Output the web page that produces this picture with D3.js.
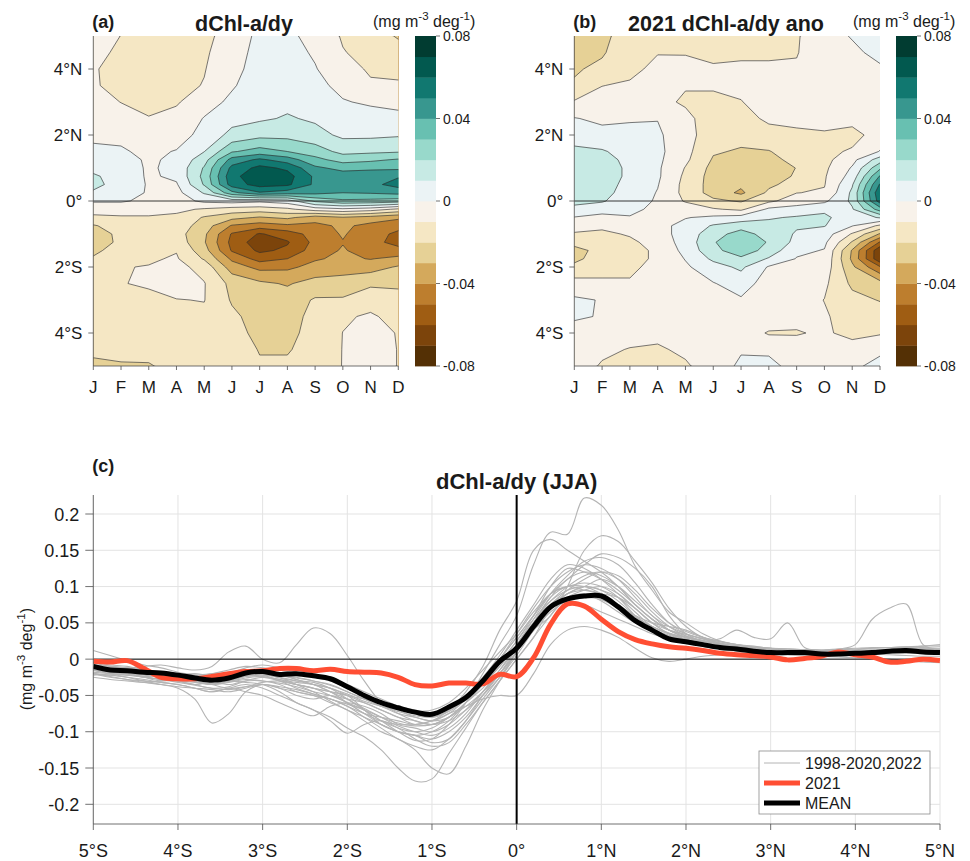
<!DOCTYPE html>
<html>
<head>
<meta charset="utf-8">
<script src="https://cdn.jsdelivr.net/npm/d3@7"></script>
<style>
  body { margin: 0; background: #fff; }
  svg { display: block; }
  text { font-family: "Liberation Sans", Arial, Helvetica, sans-serif; fill: #1a1a1a; }
</style>
</head>
<body>
<svg id="fig" width="970" height="861"></svg>
<script>
// ---------- Panels (a) and (b): month x latitude fields ----------
const monthLabels = ["J","F","M","A","M","J","J","A","S","O","N","D"];
// latitude of each grid row (north to south)
const gridLats = [5,4.5,4,3.5,3,2.5,2,1.5,1.25,1,0.75,0.5,0.25,0,-0.25,-0.5,-0.75,-1,-1.25,-1.5,-1.75,-2,-2.5,-3,-3.5,-4,-4.5,-5];
const latTicks = [4, 2, 0, -2, -4];
const colorTicks = [0.08, 0.04, 0, -0.04, -0.08];
const bandColors = ["#543005","#7c440b","#9f5d13","#bd7e2e","#d4a95c","#e6d196","#f5e7c4","#f8f2ea",
                    "#ebf3f5","#c7eae4","#98d9cb","#68c0b1","#38978f","#117870","#02594f","#013c31"];

// climatological dChl-a/dy, rows = gridLats, columns = Jan..Dec
const climGradient = [
  [-0.004,-0.0102,-0.013,-0.014,-0.013,-0.005,0.002,0.002,-0.003,-0.011,-0.015,-0.021],
  [-0.007,-0.012,-0.015,-0.016,-0.0115,-0.004,0.003,0.003,-0.001,-0.0095,-0.013,-0.016],
  [-0.009,-0.014,-0.016,-0.015,-0.0105,-0.003,0.004,0.004,0.0005,-0.0055,-0.0115,-0.012],
  [-0.009,-0.013,-0.016,-0.013,-0.0095,-0.001,0.005,0.005,0.002,-0.002,-0.0085,-0.009],
  [-0.006,-0.0102,-0.013,-0.011,-0.004,0.002,0.006,0.0075,0.0045,0.0005,-0.001,-0.002],
  [-0.003,-0.006,-0.0095,-0.007,0.0005,0.0065,0.0085,0.011,0.0085,0.004,0.003,0.002],
  [-0.001,-0.002,-0.005,-0.004,0.003,0.013,0.017,0.017,0.0135,0.008,0.008,0.009],
  [0.001,0.001,-0.002,0.0005,0.0098,0.029,0.034,0.03,0.025,0.017,0.018,0.019],
  [0.005,0.004,-0.0015,0.002,0.016,0.044,0.052,0.045,0.033,0.026,0.028,0.031],
  [0.008,0.006,-0.0015,0.003,0.021,0.053,0.063,0.058,0.042,0.037,0.038,0.038],
  [0.011,0.007,-0.0015,0.002,0.023,0.057,0.067,0.064,0.048,0.045,0.046,0.049],
  [0.012,0.007,-0.001,-0.001,0.021,0.055,0.064,0.062,0.048,0.047,0.047,0.054],
  [0.009,0.005,-0.001,-0.003,0.011,0.037,0.049,0.045,0.043,0.04,0.041,0.043],
  [0.001,0.001,-0.002,-0.004,0.002,0.004,0.002,0.005,0.022,0.028,0.027,0.025],
  [-0.006,-0.006,-0.006,-0.008,-0.011,-0.014,-0.015,-0.012,-0.005,-0.002,-0.005,-0.012],
  [-0.012,-0.011,-0.011,-0.012,-0.021,-0.027,-0.031,-0.028,-0.035,-0.031,-0.034,-0.038],
  [-0.021,-0.015,-0.013,-0.014,-0.025,-0.041,-0.045,-0.042,-0.043,-0.038,-0.043,-0.047],
  [-0.024,-0.018,-0.014,-0.016,-0.028,-0.051,-0.061,-0.055,-0.046,-0.039,-0.046,-0.052],
  [-0.025,-0.018,-0.014,-0.014,-0.029,-0.053,-0.066,-0.061,-0.047,-0.0405,-0.047,-0.053],
  [-0.022,-0.016,-0.013,-0.0105,-0.026,-0.051,-0.062,-0.058,-0.045,-0.039,-0.045,-0.047],
  [-0.019,-0.013,-0.0112,-0.009,-0.021,-0.042,-0.054,-0.05,-0.041,-0.038,-0.0405,-0.037],
  [-0.016,-0.0104,-0.0096,-0.007,-0.0135,-0.035,-0.043,-0.042,-0.037,-0.035,-0.034,-0.029],
  [-0.013,-0.0102,-0.0094,-0.006,-0.0095,-0.023,-0.028,-0.031,-0.026,-0.025,-0.022,-0.022],
  [-0.012,-0.012,-0.0112,-0.0103,-0.0097,-0.021,-0.025,-0.025,-0.019,-0.019,-0.013,-0.016],
  [-0.012,-0.013,-0.013,-0.012,-0.012,-0.018,-0.024,-0.024,-0.017,-0.011,-0.009,-0.0125],
  [-0.013,-0.014,-0.014,-0.013,-0.013,-0.016,-0.023,-0.023,-0.016,-0.0099,-0.008,-0.0103],
  [-0.018,-0.017,-0.016,-0.014,-0.014,-0.015,-0.0205,-0.021,-0.015,-0.0098,-0.007,-0.0102],
  [-0.022,-0.021,-0.021,-0.016,-0.013,-0.014,-0.019,-0.018,-0.014,-0.0098,-0.007,-0.0102]
];

// 2021 anomaly of dChl-a/dy, rows = gridLats, columns = Jan..Dec
const anomaly2021 = [
  [-0.024,-0.022,-0.016,-0.014,-0.014,-0.014,-0.013,-0.012,-0.011,-0.003,0.0005,0.003],
  [-0.022,-0.021,-0.014,-0.0105,-0.0104,-0.012,-0.011,-0.011,-0.0105,-0.004,-0.0015,0.002],
  [-0.021,-0.018,-0.013,-0.007,-0.008,-0.009,-0.009,-0.009,-0.009,-0.005,-0.003,-0.001],
  [-0.019,-0.0102,-0.0085,-0.004,-0.0095,-0.009,-0.007,-0.006,-0.006,-0.005,-0.004,-0.002],
  [-0.009,-0.006,-0.006,-0.008,-0.011,-0.012,-0.0105,-0.004,-0.006,-0.006,-0.005,-0.003],
  [0.0005,-0.002,-0.001,-0.0003,-0.008,-0.014,-0.013,-0.0085,-0.008,-0.007,-0.007,-0.004],
  [0.006,0.003,0.003,0.0015,-0.006,-0.016,-0.017,-0.013,-0.0115,-0.011,-0.013,-0.006],
  [0.012,0.011,0.006,0.0025,-0.007,-0.019,-0.021,-0.0205,-0.015,-0.012,-0.009,0.0005],
  [0.014,0.014,0.007,0.002,-0.008,-0.021,-0.024,-0.022,-0.018,-0.013,-0.003,0.015],
  [0.015,0.015,0.008,0.0015,-0.0105,-0.023,-0.026,-0.024,-0.0198,-0.012,0.001,0.028],
  [0.016,0.015,0.008,0.0015,-0.012,-0.024,-0.027,-0.024,-0.019,-0.011,0.004,0.041],
  [0.017,0.014,0.007,0.0005,-0.013,-0.024,-0.028,-0.022,-0.016,-0.0105,0.009,0.051],
  [0.019,0.013,0.006,-0.0005,-0.013,-0.024,-0.032,-0.018,-0.0102,-0.009,0.012,0.058],
  [0.012,0.011,0.004,-0.001,-0.011,-0.018,-0.021,-0.012,-0.005,-0.002,0.012,0.055],
  [0.008,0.004,0.002,-0.002,-0.004,-0.009,-0.012,0.002,0.004,0.008,0.009,0.035],
  [-0.0005,-0.003,-0.0005,-0.003,-0.0005,0.002,0.004,0.009,0.011,0.012,0.004,0.011],
  [-0.006,-0.008,-0.005,-0.003,0.003,0.011,0.016,0.013,0.011,0.0105,0.0005,-0.012],
  [-0.011,-0.012,-0.009,-0.004,0.004,0.016,0.024,0.016,0.009,0.005,-0.011,-0.031],
  [-0.017,-0.015,-0.012,-0.006,0.004,0.019,0.029,0.019,0.007,0.002,-0.021,-0.051],
  [-0.023,-0.017,-0.013,-0.0085,0.003,0.017,0.026,0.016,0.002,-0.0005,-0.031,-0.068],
  [-0.022,-0.016,-0.013,-0.0085,0.0005,0.012,0.018,0.009,-0.0005,-0.002,-0.032,-0.068],
  [-0.018,-0.014,-0.012,-0.007,-0.0015,0.006,0.012,-0.001,-0.002,-0.004,-0.028,-0.049],
  [-0.006,-0.008,-0.009,-0.005,-0.004,-0.0005,0.004,-0.004,-0.004,-0.008,-0.022,-0.026],
  [0.0015,-0.0005,-0.005,-0.004,-0.005,-0.004,-0.001,-0.002,-0.006,-0.0102,-0.017,-0.0205],
  [0.001,-0.0005,-0.004,-0.005,-0.006,-0.006,-0.003,-0.003,-0.008,-0.009,-0.014,-0.015],
  [-0.003,-0.005,-0.006,-0.008,-0.008,-0.008,-0.004,-0.011,-0.0105,-0.009,-0.012,-0.011],
  [-0.004,-0.008,-0.0105,-0.011,-0.0085,-0.008,-0.001,-0.002,-0.007,-0.006,-0.007,-0.002],
  [-0.005,-0.011,-0.013,-0.014,-0.011,-0.006,0.002,0.003,-0.004,-0.004,-0.002,0.003]
];

// ---------- Panel (c): JJA meridional profiles ----------
const profileLats = [-5,-4.8,-4.6,-4.4,-4.2,-4,-3.8,-3.6,-3.4,-3.2,
  -3,-2.8,-2.6,-2.4,-2.2,-2,-1.8,-1.6,-1.4,-1.2,
  -1,-0.8,-0.6,-0.4,-0.2,0,0.2,0.4,0.6,0.8,
  1,1.2,1.4,1.6,1.8,2,2.2,2.4,2.6,2.8,
  3,3.2,3.4,3.6,3.8,4,4.2,4.4,4.6,4.8,5];
const profileYTicks = [0.2,0.15,0.1,0.05,0,-0.05,-0.1,-0.15,-0.2];
const profileXTicks = [-5,-4,-3,-2,-1,0,1,2,3,4,5];

const profile2021 = [-0.003,-0.004,-0.002,-0.013,-0.025,-0.027,-0.027,-0.024,-0.02,-0.017,
  -0.016,-0.013,-0.013,-0.016,-0.014,-0.017,-0.018,-0.019,-0.025,-0.035,
  -0.037,-0.033,-0.033,-0.034,-0.021,-0.024,0.002,0.048,0.076,0.073,
  0.055,0.038,0.027,0.021,0.017,0.015,0.012,0.008,0.006,0.005,
  0.003,-0.001,0.001,0.004,0.01,0.006,0.003,-0.004,-0.003,0,-0.002];

const profileMean = [-0.01,-0.015,-0.016,-0.018,-0.019,-0.022,-0.026,-0.029,-0.026,-0.019,
  -0.017,-0.021,-0.02,-0.023,-0.027,-0.038,-0.05,-0.06,-0.067,-0.073,
  -0.076,-0.066,-0.053,-0.03,-0.003,0.015,0.045,0.072,0.083,0.087,
  0.087,0.072,0.053,0.04,0.028,0.024,0.02,0.016,0.014,0.011,
  0.009,0.009,0.009,0.007,0.007,0.008,0.009,0.011,0.012,0.01,0.009];

// individual years 1998-2020 and 2022
const profileYears = [
  [-0.012,-0.016,-0.02,-0.024,-0.022,-0.025,-0.03,-0.034,-0.03,-0.022,
   -0.02,-0.026,-0.03,-0.032,-0.04,-0.055,-0.07,-0.085,-0.1,-0.112,
   -0.11,-0.09,-0.06,-0.02,0.02,0.06,0.13,0.175,0.172,0.222,
   0.212,0.178,0.128,0.095,0.065,0.05,0.035,0.025,0.02,0.018,
   0.015,0.014,0.013,0.012,0.013,0.014,0.015,0.016,0.017,0.016,0.015],
  [-0.008,-0.01,-0.014,-0.018,-0.02,-0.022,-0.02,-0.024,-0.03,-0.026,
   -0.024,-0.028,-0.035,-0.04,-0.045,-0.05,-0.07,-0.09,-0.1,-0.105,
   -0.115,-0.11,-0.085,-0.05,-0.02,0.01,0.04,0.06,0.1,0.15,
   0.17,0.162,0.135,0.105,0.07,0.045,0.03,0.025,0.02,0.016,
   0.015,0.012,0.012,0.011,0.01,0.01,0.011,0.012,0.012,0.012,0.011],
  [-0.015,-0.02,-0.022,-0.02,-0.025,-0.03,-0.035,-0.03,-0.025,-0.02,
   -0.022,-0.03,-0.035,-0.04,-0.05,-0.06,-0.075,-0.08,-0.085,-0.09,
   -0.085,-0.07,-0.045,-0.01,0.04,0.08,0.15,0.165,0.15,0.135,
   0.12,0.1,0.075,0.055,0.04,0.03,0.025,0.022,0.018,0.015,
   0.012,0.01,0.01,0.012,0.013,0.012,0.01,0.01,0.012,0.014,0.013],
  [-0.02,-0.025,-0.028,-0.03,-0.032,-0.035,-0.04,-0.045,-0.04,-0.035,
   -0.04,-0.05,-0.06,-0.07,-0.08,-0.095,-0.107,-0.125,-0.15,-0.168,
   -0.165,-0.13,-0.095,-0.06,-0.03,0,0.03,0.07,0.09,0.1,
   0.095,0.085,0.065,0.045,0.035,0.03,0.025,0.02,0.018,0.016,
   0.014,0.012,0.01,0.008,0.008,0.01,0.012,0.012,0.01,0.008,0.007],
  [-0.012,-0.015,-0.02,-0.025,-0.03,-0.028,-0.026,-0.03,-0.035,-0.03,
   -0.03,-0.035,-0.045,-0.05,-0.06,-0.07,-0.085,-0.1,-0.11,-0.125,
   -0.15,-0.158,-0.12,-0.07,-0.03,0.01,0.04,0.07,0.09,0.1,
   0.11,0.1,0.08,0.06,0.04,0.03,0.025,0.02,0.015,0.012,
   0.01,0.01,0.009,0.008,0.006,0.005,0.008,0.01,0.012,0.012,0.01],
  [-0.005,-0.01,-0.012,-0.01,-0.008,-0.012,-0.015,-0.01,0.01,0.018,
   0,-0.005,0.02,0.043,0.035,0.005,-0.03,-0.06,-0.075,-0.085,
   -0.09,-0.08,-0.06,-0.03,0,0.03,0.06,0.09,0.1,0.105,
   0.1,0.085,0.06,0.04,0.03,0.025,0.02,0.02,0.018,0.015,
   0.012,0.01,0.012,0.012,0.01,0.008,0.01,0.012,0.015,0.014,0.012],
  [-0.015,-0.02,-0.025,-0.03,-0.035,-0.04,-0.055,-0.088,-0.075,-0.045,
   -0.035,-0.04,-0.05,-0.055,-0.05,-0.06,-0.07,-0.085,-0.095,-0.1,
   -0.095,-0.08,-0.06,-0.04,-0.015,0.015,0.05,0.085,0.11,0.12,
   0.115,0.1,0.075,0.055,0.04,0.032,0.026,0.022,0.018,0.015,
   0.012,0.01,0.008,0.007,0.008,0.01,0.012,0.013,0.012,0.011,0.01],
  [-0.02,-0.022,-0.025,-0.028,-0.032,-0.035,-0.04,-0.045,-0.04,-0.045,
   -0.05,-0.06,-0.07,-0.078,-0.065,-0.06,-0.065,-0.075,-0.09,-0.095,
   -0.1,-0.09,-0.07,-0.045,-0.02,0.01,0.05,0.08,0.1,0.115,
   0.12,0.11,0.09,0.065,0.045,0.032,0.025,0.02,0.016,0.014,
   0.012,0.011,0.01,0.009,0.009,0.01,0.01,0.011,0.012,0.012,0.013],
  [-0.01,-0.012,-0.015,-0.018,-0.02,-0.022,-0.025,-0.028,-0.03,-0.032,
   -0.035,-0.045,-0.06,-0.07,-0.085,-0.102,-0.09,-0.085,-0.095,-0.11,
   -0.12,-0.115,-0.09,-0.06,-0.03,0,0.03,0.06,0.085,0.095,
   0.1,0.09,0.07,0.05,0.035,0.028,0.022,0.018,0.015,0.013,
   0.011,0.01,0.009,0.008,0.008,0.009,0.01,0.011,0.012,0.012,0.011],
  [-0.005,-0.008,-0.01,-0.015,-0.018,-0.02,-0.022,-0.02,-0.018,-0.015,
   -0.018,-0.022,-0.025,-0.03,-0.035,-0.045,-0.055,-0.065,-0.075,-0.08,
   -0.085,-0.075,-0.055,-0.03,0,0.03,0.06,0.09,0.11,0.13,
   0.145,0.14,0.125,0.1,0.06,0.035,0.025,0.028,0.04,0.03,
   0.028,0.05,0.016,0.012,0.01,0.009,0.01,0.011,0.012,0.012,0.012],
  [-0.012,-0.015,-0.018,-0.02,-0.022,-0.025,-0.028,-0.03,-0.028,-0.024,
   -0.022,-0.025,-0.03,-0.035,-0.04,-0.05,-0.06,-0.07,-0.08,-0.09,
   -0.09,-0.08,-0.06,-0.035,-0.005,0.025,0.055,0.08,0.095,0.1,
   0.095,0.08,0.06,0.045,0.035,0.03,0.025,0.02,0.018,0.015,
   0.013,0.012,0.012,0.012,0.014,0.02,0.055,0.07,0.076,0.02,0.013],
  [-0.025,-0.028,-0.03,-0.032,-0.03,-0.028,-0.03,-0.035,-0.04,-0.038,
   -0.035,-0.04,-0.045,-0.05,-0.055,-0.065,-0.075,-0.085,-0.09,-0.09,
   -0.085,-0.075,-0.065,-0.055,-0.05,-0.05,-0.02,0.02,0.04,0.045,
   0.04,0.03,0.015,0.002,-0.003,0,0.004,0.006,0.008,0.008,
   0.007,0.006,0.005,0.004,0.003,0.002,0.001,0,-0.002,-0.004,-0.005],
  [-0.01,-0.012,-0.015,-0.02,-0.025,-0.03,-0.035,-0.04,-0.038,-0.03,
   -0.025,-0.028,-0.032,-0.035,-0.04,-0.048,-0.058,-0.065,-0.07,-0.072,
   -0.07,-0.06,-0.04,-0.015,0.01,0.035,0.065,0.09,0.1,0.095,
   0.09,0.085,0.07,0.05,0.035,0.027,0.022,0.018,0.015,0.012,
   0.01,0.008,0.009,0.01,0.012,0.011,0.01,0.009,0.008,0.009,0.01],
  [-0.018,-0.02,-0.022,-0.025,-0.028,-0.03,-0.032,-0.035,-0.032,-0.028,
   -0.03,-0.033,-0.038,-0.045,-0.05,-0.055,-0.06,-0.07,-0.08,-0.085,
   -0.09,-0.085,-0.07,-0.05,-0.025,0.005,0.04,0.07,0.085,0.09,
   0.08,0.065,0.05,0.04,0.032,0.026,0.021,0.018,0.015,0.013,
   0.011,0.01,0.01,0.011,0.012,0.012,0.011,0.01,0.01,0.011,0.012],
  [0.012,0.005,-0.002,-0.008,-0.012,-0.018,-0.022,-0.025,-0.02,-0.012,
   -0.008,-0.012,-0.018,-0.022,-0.028,-0.035,-0.045,-0.055,-0.065,-0.075,
   -0.08,-0.07,-0.05,-0.025,0.005,0.04,0.075,0.11,0.13,0.125,
   0.11,0.09,0.07,0.05,0.04,0.034,0.028,0.024,0.02,0.017,
   0.015,0.014,0.013,0.013,0.014,0.015,0.016,0.016,0.017,0.018,0.018],
  [-0.008,-0.01,-0.012,-0.015,-0.02,-0.024,-0.03,-0.034,-0.03,-0.024,
   -0.02,-0.022,-0.028,-0.035,-0.045,-0.06,-0.075,-0.09,-0.1,-0.105,
   -0.1,-0.085,-0.06,-0.03,0,0.035,0.07,0.1,0.12,0.13,
   0.125,0.11,0.085,0.06,0.045,0.035,0.028,0.022,0.018,0.016,
   0.014,0.012,0.011,0.01,0.009,0.01,0.011,0.012,0.013,0.013,0.012],
  [-0.02,-0.022,-0.018,-0.015,-0.018,-0.022,-0.025,-0.02,-0.015,-0.01,
   -0.012,-0.015,-0.02,-0.025,-0.03,-0.04,-0.05,-0.06,-0.07,-0.08,
   -0.085,-0.08,-0.06,-0.035,-0.01,0.02,0.05,0.075,0.09,0.095,
   0.09,0.075,0.058,0.045,0.036,0.03,0.025,0.02,0.016,0.013,
   0.01,0.008,0.006,0.005,0.006,0.008,0.01,0.01,0.009,0.008,0.008],
  [-0.015,-0.018,-0.02,-0.022,-0.025,-0.028,-0.03,-0.028,-0.025,-0.022,
   -0.025,-0.03,-0.04,-0.048,-0.055,-0.065,-0.08,-0.095,-0.11,-0.12,
   -0.125,-0.11,-0.085,-0.055,-0.025,0.01,0.045,0.075,0.095,0.11,
   0.12,0.115,0.095,0.07,0.05,0.038,0.03,0.024,0.02,0.016,
   0.013,0.011,0.01,0.009,0.009,0.009,0.01,0.01,0.011,0.011,0.011],
  [-0.02,-0.024,-0.028,-0.032,-0.035,-0.038,-0.04,-0.042,-0.045,-0.04,
   -0.035,-0.038,-0.042,-0.048,-0.055,-0.062,-0.07,-0.08,-0.088,-0.092,
   -0.09,-0.08,-0.065,-0.045,-0.02,0.01,0.04,0.065,0.08,0.085,
   0.082,0.07,0.055,0.042,0.033,0.027,0.022,0.018,0.015,0.012,
   0.01,0.008,0.007,0.006,0.006,0.007,0.008,0.009,0.009,0.008,0.007],
  [-0.01,-0.015,-0.02,-0.025,-0.028,-0.03,-0.028,-0.025,-0.02,-0.015,
   -0.018,-0.025,-0.035,-0.045,-0.058,-0.07,-0.08,-0.09,-0.1,-0.105,
   -0.11,-0.1,-0.08,-0.05,-0.02,0.015,0.05,0.085,0.1,0.1,
   0.09,0.075,0.06,0.05,0.045,0.04,0.03,0.022,0.016,0.012,
   0.01,0.009,0.009,0.01,0.011,0.012,0.013,0.014,0.016,0.018,0.02],
  [-0.015,-0.018,-0.02,-0.024,-0.028,-0.032,-0.036,-0.04,-0.042,-0.038,
   -0.032,-0.03,-0.035,-0.04,-0.045,-0.05,-0.055,-0.06,-0.065,-0.07,
   -0.075,-0.07,-0.055,-0.035,-0.01,0.02,0.05,0.07,0.08,0.075,
   0.065,0.055,0.045,0.035,0.028,0.022,0.018,0.014,0.011,0.009,
   0.007,0.006,0.005,0.005,0.006,0.007,0.007,0.006,0.005,0.004,0.004],
  [-0.022,-0.02,-0.018,-0.02,-0.024,-0.026,-0.03,-0.035,-0.03,-0.02,
   -0.015,-0.02,-0.028,-0.035,-0.045,-0.055,-0.068,-0.08,-0.092,-0.1,
   -0.105,-0.095,-0.075,-0.045,-0.015,0.02,0.055,0.09,0.115,0.135,
   0.14,0.13,0.105,0.075,0.05,0.035,0.028,0.022,0.018,0.016,
   0.015,0.014,0.013,0.012,0.012,0.013,0.015,0.016,0.016,0.015,0.014],
  [-0.018,-0.016,-0.014,-0.016,-0.02,-0.023,-0.026,-0.028,-0.025,-0.02,
   -0.018,-0.022,-0.026,-0.03,-0.036,-0.045,-0.055,-0.065,-0.072,-0.078,
   -0.08,-0.072,-0.055,-0.03,-0.005,0.025,0.06,0.1,0.125,0.12,
   0.11,0.095,0.075,0.055,0.04,0.03,0.024,0.02,0.016,0.013,
   0.011,0.01,0.009,0.009,0.01,0.011,0.012,0.012,0.011,0.01,0.009]
];

const legendLabels = ["1998-2020,2022", "2021", "MEAN"];

// ---------- drawing ----------
const svg = d3.select("#fig");
const axisColor = "#4d4d4d";

function addUnits(t, sup) {
  t.append("tspan").text("(mg m");
  t.append("tspan").attr("dy", -sup).attr("font-size", "0.72em").text("-3");
  t.append("tspan").attr("dy", sup).text(" deg");
  t.append("tspan").attr("dy", -sup).attr("font-size", "0.72em").text("-1");
  t.append("tspan").attr("dy", sup).text(")");
}

const bandLevels = d3.range(16).map(i => +(-0.08 + i * 0.01).toFixed(2));
const lineLevels = d3.range(17).map(i => +(-0.08 + i * 0.01).toFixed(2));

function drawField(opts) {
  const { values, x0, x1, y0, y1, cbx, tag, title, titleX, unitsX, id } = opts;
  const g = svg.append("g");
  const nx = monthLabels.length, ny = gridLats.length;
  const flat = values.flat();
  const xMonth = d3.scaleLinear().domain([0, nx - 1]).range([x0, x1]);
  const yLat = d3.scaleLinear().domain([5, -5]).range([y0, y1]);
  const rowToLat = d3.scaleLinear().domain(d3.range(ny)).range(gridLats);
  const px = gx => xMonth(gx - 0.5);
  const py = gy => yLat(rowToLat(gy - 0.5));
  const ringPath = ring => "M" + ring.map(p => px(p[0]).toFixed(2) + "," + py(p[1]).toFixed(2)).join("L") + "Z";
  const geomPath = c => c.coordinates.map(poly => poly.map(ringPath).join("")).join("");

  g.append("clipPath").attr("id", id).append("rect")
    .attr("x", x0).attr("y", y0).attr("width", x1 - x0).attr("height", y1 - y0);
  const plot = g.append("g").attr("clip-path", `url(#${id})`);

  const fills = d3.contours().size([nx, ny]).thresholds(bandLevels)(flat);
  plot.selectAll("path.band").data(fills).join("path")
    .attr("class", "band")
    .attr("d", geomPath)
    .attr("fill", (d, i) => bandColors[i])
    .attr("fill-rule", "evenodd")
    .attr("stroke", (d, i) => bandColors[i])
    .attr("stroke-width", 0.3);

  const lines = d3.contours().size([nx, ny]).thresholds(lineLevels)(flat);
  plot.selectAll("path.iso").data(lines).join("path")
    .attr("class", "iso")
    .attr("d", geomPath)
    .attr("fill", "none")
    .attr("stroke", "#2b2b2b")
    .attr("stroke-width", 0.7)
    .attr("stroke-opacity", 0.9);

  // equator
  g.append("line").attr("x1", x0).attr("x2", x1).attr("y1", yLat(0)).attr("y2", yLat(0))
    .attr("stroke", "#222").attr("stroke-width", 0.9);

  // axes
  g.append("line").attr("x1", x0).attr("x2", x0).attr("y1", y0).attr("y2", y1)
    .attr("stroke", axisColor).attr("stroke-width", 0.8);
  g.append("line").attr("x1", x0).attr("x2", x1).attr("y1", y1).attr("y2", y1)
    .attr("stroke", axisColor).attr("stroke-width", 0.8);
  monthLabels.forEach((m, i) => {
    const x = xMonth(i);
    g.append("line").attr("x1", x).attr("x2", x).attr("y1", y1).attr("y2", y1 + 4)
      .attr("stroke", axisColor).attr("stroke-width", 0.8);
    g.append("text").attr("x", x).attr("y", y1 + 27).attr("text-anchor", "middle")
      .attr("font-size", 17).text(m);
  });
  latTicks.forEach(l => {
    const y = yLat(l);
    g.append("line").attr("x1", x0 - 5).attr("x2", x0).attr("y1", y).attr("y2", y)
      .attr("stroke", axisColor).attr("stroke-width", 0.8);
    const lab = l === 0 ? "0°" : Math.abs(l) + "°" + (l > 0 ? "N" : "S");
    g.append("text").attr("x", x0 - 11).attr("y", y + 6).attr("text-anchor", "end")
      .attr("font-size", 17).text(lab);
  });

  // colorbar
  const yCb = d3.scaleLinear().domain([-0.08, 0.08]).range([y1, y0]);
  bandLevels.forEach((lv, i) => {
    g.append("rect").attr("x", cbx).attr("width", 21)
      .attr("y", yCb(lv + 0.01)).attr("height", yCb(lv) - yCb(lv + 0.01) + 0.4)
      .attr("fill", bandColors[i]);
  });
  colorTicks.forEach(v => {
    g.append("line").attr("x1", cbx + 21).attr("x2", cbx + 25).attr("y1", yCb(v)).attr("y2", yCb(v))
      .attr("stroke", axisColor).attr("stroke-width", 0.8);
    g.append("text").attr("x", cbx + 28).attr("y", yCb(v) + 5).attr("font-size", 14)
      .text(v === 0 ? "0" : v.toFixed(2));
  });

  // titles
  g.append("text").attr("x", x0 - 1).attr("y", 28).attr("font-size", 18).attr("font-weight", "bold").text(tag);
  g.append("text").attr("x", titleX).attr("y", 31).attr("text-anchor", "middle")
    .attr("font-size", 21.5).attr("font-weight", "bold").text(title);
  const u = g.append("text").attr("x", unitsX).attr("y", 27).attr("font-size", 16);
  addUnits(u, 7);
}

drawField({ values: climGradient, x0: 93.3, x1: 398.3, y0: 36, y1: 366, cbx: 415,
  tag: "(a)", title: "dChl-a/dy", titleX: 244, unitsX: 373, id: "clipA" });
drawField({ values: anomaly2021, x0: 574.3, x1: 880, y0: 36, y1: 366, cbx: 896,
  tag: "(b)", title: "2021 dChl-a/dy ano", titleX: 726, unitsX: 853, id: "clipB" });

// ---------- panel (c) ----------
(function () {
  const left = 93.3, right = 940, top = 495, bottom = 824;
  const x = d3.scaleLinear().domain([-5, 5]).range([left, right]);
  const y = d3.scaleLinear().domain([-0.2, 0.2]).range([804.3, 514]);
  const g = svg.append("g");

  // grid
  profileXTicks.forEach(t => {
    g.append("line").attr("x1", x(t)).attr("x2", x(t)).attr("y1", top).attr("y2", bottom)
      .attr("stroke", "#e3e3e3").attr("stroke-width", 1);
  });
  profileYTicks.forEach(t => {
    g.append("line").attr("x1", left).attr("x2", right).attr("y1", y(t)).attr("y2", y(t))
      .attr("stroke", "#e3e3e3").attr("stroke-width", 1);
  });

  const line = d3.line().x((d, i) => x(profileLats[i])).y(d => y(d)).curve(d3.curveCatmullRom.alpha(0.5));

  g.append("clipPath").attr("id", "clipC").append("rect")
    .attr("x", left).attr("y", top).attr("width", right - left).attr("height", bottom - top);
  const plot = g.append("g").attr("clip-path", "url(#clipC)");

  plot.selectAll("path.yr").data(profileYears).join("path").attr("class", "yr")
    .attr("d", line).attr("fill", "none").attr("stroke", "#b4b4b4").attr("stroke-width", 1.1);

  // reference lines
  plot.append("line").attr("x1", left).attr("x2", right).attr("y1", y(0)).attr("y2", y(0))
    .attr("stroke", "#000").attr("stroke-width", 1);
  plot.append("line").attr("x1", x(0)).attr("x2", x(0)).attr("y1", top).attr("y2", bottom)
    .attr("stroke", "#000").attr("stroke-width", 2);

  plot.append("path").datum(profile2021).attr("d", line).attr("fill", "none")
    .attr("stroke", "#ff4e33").attr("stroke-width", 5).attr("stroke-linejoin", "round");
  plot.append("path").datum(profileMean).attr("d", line).attr("fill", "none")
    .attr("stroke", "#000").attr("stroke-width", 5).attr("stroke-linejoin", "round");

  // axes
  g.append("line").attr("x1", left).attr("x2", left).attr("y1", top).attr("y2", bottom)
    .attr("stroke", axisColor).attr("stroke-width", 0.8);
  g.append("line").attr("x1", left).attr("x2", right).attr("y1", bottom).attr("y2", bottom)
    .attr("stroke", axisColor).attr("stroke-width", 0.8);
  profileYTicks.forEach(t => {
    g.append("line").attr("x1", left - 8).attr("x2", left).attr("y1", y(t)).attr("y2", y(t))
      .attr("stroke", axisColor).attr("stroke-width", 0.8);
    g.append("text").attr("x", left - 14).attr("y", y(t) + 6.5).attr("text-anchor", "end")
      .attr("font-size", 18).text(String(+t.toFixed(2)));
  });
  profileXTicks.forEach(t => {
    g.append("line").attr("x1", x(t)).attr("x2", x(t)).attr("y1", bottom).attr("y2", bottom + 6)
      .attr("stroke", axisColor).attr("stroke-width", 0.8);
    const lab = t === 0 ? "0°" : Math.abs(t) + "°" + (t > 0 ? "N" : "S");
    g.append("text").attr("x", x(t)).attr("y", bottom + 33).attr("text-anchor", "middle")
      .attr("font-size", 18).text(lab);
  });

  // labels
  g.append("text").attr("x", left - 1).attr("y", 472).attr("font-size", 18).attr("font-weight", "bold").text("(c)");
  g.append("text").attr("x", x(0)).attr("y", 489).attr("text-anchor", "middle")
    .attr("font-size", 22).attr("font-weight", "bold").text("dChl-a/dy (JJA)");
  const yl = g.append("text").attr("transform", `translate(32,${y(0)}) rotate(-90)`)
    .attr("text-anchor", "middle").attr("font-size", 16);
  addUnits(yl, 7);

  // legend
  const lg = g.append("g").attr("transform", "translate(759,751)");
  lg.append("rect").attr("width", 171).attr("height", 63).attr("fill", "#fff")
    .attr("stroke", "#8c8c8c").attr("stroke-width", 0.8);
  const styles = [["#b4b4b4", 1], ["#ff4e33", 5], ["#000", 5]];
  legendLabels.forEach((lab, i) => {
    const yy = 12 + i * 20;
    lg.append("line").attr("x1", 5).attr("x2", 41).attr("y1", yy).attr("y2", yy)
      .attr("stroke", styles[i][0]).attr("stroke-width", styles[i][1]);
    lg.append("text").attr("x", 46).attr("y", yy + 5.5).attr("font-size", 16).text(lab);
  });
})();
</script>
</body>
</html>
